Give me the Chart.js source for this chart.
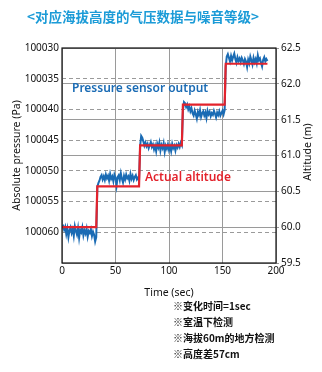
<!DOCTYPE html>
<html>
<head>
<meta charset="utf-8">
<script src="https://cdn.jsdelivr.net/npm/chart.js@4"></script>
<style>
  html, body { margin: 0; padding: 0; background: #fff; }
  #wrap { width: 322px; height: 372px; }
</style>
</head>
<body>
<div id="wrap"><canvas id="pressureChart" width="322" height="372"></canvas></div>
<script>
// sensor output, one sample per second from t = 0 (Pa)
const sensorPressure = [
    100059.2, 100059.0, 100059.6, 100059.1, 100060.3, 100059.4, 100060.8, 100059.7, 100059.2, 100060.1,
    100059.5, 100060.6, 100059.0, 100059.8, 100060.4, 100059.3, 100060.9, 100059.6, 100060.0, 100059.2,
    100060.5, 100059.7, 100060.2, 100059.4, 100060.7, 100059.8, 100060.1, 100059.5, 100060.6, 100059.9,
    100060.4, 100061.5, 100060.8,
    100052.6, 100052.0,
    100051.6, 100051.0, 100050.7, 100051.4, 100050.9, 100051.5, 100050.6, 100051.2, 100050.8, 100051.6,
    100050.5, 100051.3, 100050.9, 100051.7, 100050.6, 100051.1, 100052.4, 100051.0, 100050.7, 100051.5,
    100050.4, 100051.3, 100051.9, 100050.8, 100051.4, 100050.6, 100051.2, 100050.9, 100051.6, 100050.5,
    100051.3, 100050.8, 100051.5, 100051.0, 100050.7, 100051.4, 100051.1, 100051.6,
    100046.0, 100044.3,
    100044.6, 100045.2, 100045.9, 100045.4, 100046.0, 100045.6, 100046.3, 100045.8, 100045.3, 100046.1,
    100045.7, 100046.5, 100045.9, 100046.8, 100045.6, 100046.2, 100045.4, 100046.7, 100045.8, 100046.3,
    100045.5, 100046.9, 100045.9, 100046.4, 100045.7, 100046.6, 100046.0, 100046.8, 100045.6, 100046.3,
    100045.9, 100046.7, 100045.8, 100046.2, 100045.6, 100046.1, 100045.4, 100045.8,
    100040.2, 100038.8,
    100039.0, 100039.6, 100039.2, 100040.0, 100039.5, 100040.3, 100039.8, 100040.6, 100041.0, 100040.2,
    100040.8, 100041.5, 100040.4, 100040.9, 100040.1, 100041.2, 100040.6, 100040.3, 100041.0, 100040.5,
    100041.4, 100040.2, 100040.8, 100040.4, 100041.1, 100040.6, 100040.9, 100040.2, 100040.7, 100041.3,
    100040.5, 100040.9, 100040.3, 100041.0, 100040.6, 100040.2, 100040.8, 100040.1,
    100033.0, 100031.4,
    100031.0, 100031.6, 100032.2, 100031.3, 100032.0, 100031.4, 100030.9, 100031.8, 100032.4, 100031.5,
    100032.1, 100031.7, 100032.3, 100031.6, 100032.0, 100032.6, 100031.8, 100032.2, 100033.1, 100031.9,
    100032.5, 100031.4, 100032.0, 100032.7, 100031.6, 100032.3, 100031.8, 100032.5, 100031.2, 100032.0,
    100031.7, 100032.4, 100033.0, 100031.9, 100031.5, 100032.2, 100031.8, 100032.1
];

// actual altitude steps (sec, m)
const altitudeTimes = [0, 32, 33, 72, 73, 112, 113, 152, 153, 192];
const altitudeLevels = [60.0, 60.0, 60.57, 60.57, 61.14, 61.14, 61.71, 61.71, 62.28, 62.28];

const pressureTicks = [100030, 100035, 100040, 100045, 100050, 100055, 100060];
const altitudeTicks = [59.5, 60.0, 60.5, 61.0, 61.5, 62.0, 62.5];
const timeTicks = [0, 50, 100, 150, 200];

const titleText = '<对应海拔高度的气压数据与噪音等级>';
const notes = ['※变化时间=1sec', '※室温下检测', '※海拔60m的地方检测', '※高度差57cm'];

const FONT = "'Noto Sans', sans-serif";
const CJK = "'Noto Sans CJK SC', sans-serif";

const sensorPoints = sensorPressure.map((p, i) => ({ x: i, y: p }));
const altitudePoints = altitudeTimes.map((t, i) => ({ x: t, y: altitudeLevels[i] }));

const extras = {
    id: 'extras',
    afterDraw(chart) {
        const ctx = chart.ctx;
        const a = chart.chartArea;
        ctx.save();
        // frame
        ctx.strokeStyle = '#111';
        ctx.lineWidth = 1.2;
        ctx.strokeRect(a.left, a.top, a.right - a.left, a.bottom - a.top);

        // heading
        ctx.fillStyle = '#1b9bd7';
        ctx.font = 'bold 13.5px ' + CJK;
        ctx.textBaseline = 'middle';
        ctx.textAlign = 'left';
        ctx.fillText(titleText, 27, 17);

        // series labels
        ctx.fillStyle = '#1a6bb4';
        ctx.font = '600 12px ' + FONT;
        ctx.fillText('Pressure sensor output', 72, 89);
        ctx.fillStyle = '#e3232c';
        ctx.fillText('Actual altitude', 145, 178);

        // notes
        ctx.fillStyle = '#111';
        ctx.font = 'bold 10px ' + CJK;
        notes.forEach((n, i) => ctx.fillText(n, 173, 306 + i * 16));

        // right axis title, reading bottom to top
        ctx.save();
        ctx.translate(308, 152);
        ctx.rotate(-Math.PI / 2);
        ctx.textAlign = 'center';
        ctx.fillStyle = '#111';
        ctx.font = '10.5px ' + FONT;
        ctx.fillText('Altitude (m)', 0, 0);
        ctx.restore();

        ctx.restore();
    }
};

const ctx = document.getElementById('pressureChart').getContext('2d');
new Chart(ctx, {
    type: 'line',
    data: {
        datasets: [{
            label: 'Pressure sensor output',
            data: sensorPoints,
            yAxisID: 'y',
            order: 1,
            borderColor: '#1a6bb4',
            borderWidth: 2,
            pointRadius: 0,
            tension: 0
        }, {
            label: 'Actual altitude',
            data: altitudePoints,
            yAxisID: 'y1',
            order: 0,
            borderColor: '#e3232c',
            borderWidth: 2.2,
            pointRadius: 0,
            tension: 0
        }]
    },
    options: {
        responsive: false,
        animation: false,
        events: [],
        layout: { padding: { left: 11, right: 0, top: 48, bottom: 69 } },
        plugins: {
            legend: { display: false },
            tooltip: { enabled: false }
        },
        scales: {
            x: {
                type: 'linear',
                min: 0,
                max: 200,
                afterBuildTicks: s => { s.ticks = timeTicks.map(v => ({ value: v })); },
                afterFit: s => { s.height = 40; },
                ticks: { color: '#111', font: { family: FONT, size: 10 }, padding: 2 },
                grid: { color: '#9a9a9a', lineWidth: 1, drawTicks: false },
                border: { display: false },
                title: { display: true, text: 'Time (sec)', color: '#111', font: { family: FONT, size: 10.5 }, padding: { top: 2 } }
            },
            y: {
                position: 'left',
                reverse: true,
                min: 100030,
                max: 100065,
                afterBuildTicks: s => { s.ticks = pressureTicks.map(v => ({ value: v })); },
                afterFit: s => { s.width = 51; },
                ticks: { color: '#111', font: { family: FONT, size: 10 }, padding: 3, callback: v => String(v) },
                grid: { color: '#9a9a9a', lineWidth: 1, drawTicks: false },
                border: { display: false, dash: [4, 3] },
                title: { display: true, text: 'Absolute pressure (Pa)', color: '#111', font: { family: FONT, size: 10.5 }, padding: 0 }
            },
            y1: {
                position: 'right',
                min: 59.5,
                max: 62.5,
                afterBuildTicks: s => { s.ticks = altitudeTicks.map(v => ({ value: v })); },
                afterFit: s => { s.width = 46; },
                ticks: { color: '#111', font: { family: FONT, size: 10 }, padding: 2, callback: v => v.toFixed(1) },
                grid: { color: '#9a9a9a', lineWidth: 1, tickLength: 3 },
                border: { display: false },
                title: { display: false }
            }
        }
    },
    plugins: [extras]
});
</script>
</body>
</html>
